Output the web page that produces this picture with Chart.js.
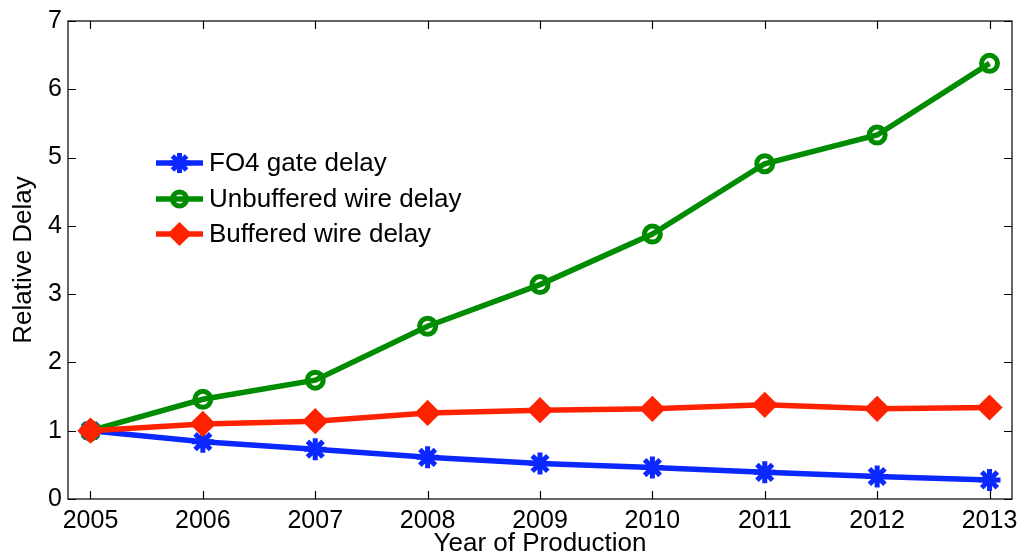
<!DOCTYPE html>
<html lang="en">
<head>
  <meta charset="UTF-8" />
  <title>Relative Delay</title>
  <script src="https://cdn.jsdelivr.net/npm/chart.js"></script>
  <style>
    body { margin: 0; background: #fff; }
  </style>
</head>
<body>
  <canvas id="delayChart" width="1028" height="558"></canvas>

  <script>
    // values
    const years = [2005, 2006, 2007, 2008, 2009, 2010, 2011, 2012, 2013];
    const fo4Delay = [1.0, 0.84, 0.73, 0.61, 0.52, 0.46, 0.39, 0.33, 0.28];
    const unbufferedDelay = [1.0, 1.46, 1.74, 2.53, 3.14, 3.88, 4.91, 5.33, 6.38];
    const bufferedDelay = [1.0, 1.10, 1.14, 1.26, 1.30, 1.32, 1.38, 1.32, 1.34];
    const yTicks = [0, 1, 2, 3, 4, 5, 6, 7];

    const FONT = '"Liberation Sans", Arial, Helvetica, sans-serif';

    const toPoints = vals => vals.map((v, i) => ({ x: years[i], y: v }));

    const series = [
      { label: 'FO4 gate delay', data: fo4Delay, color: '#0a28ff', style: 'star', radius: 11, bw: 5, fill: false, order: 3 },
      { label: 'Unbuffered wire delay', data: unbufferedDelay, color: '#008c00', style: 'circle', radius: 8, bw: 5, fill: false, order: 2 },
      { label: 'Buffered wire delay', data: bufferedDelay, color: '#ff2200', style: 'rectRot', radius: 11, bw: 3, fill: true, order: 1 }
    ];

    // MATLAB style box with inward ticks on all four sides
    const boxPlugin = {
      id: 'box',
      afterDraw(chart) {
        const { ctx, chartArea: a, scales } = chart;
        ctx.save();
        ctx.strokeStyle = '#000';
        ctx.lineWidth = 1.2;
        ctx.strokeRect(a.left, a.top, a.right - a.left, a.bottom - a.top);
        ctx.beginPath();
        years.forEach(v => {
          const x = Math.round(scales.x.getPixelForValue(v)) + 0.5;
          ctx.moveTo(x, a.bottom); ctx.lineTo(x, a.bottom - 8);
          ctx.moveTo(x, a.top); ctx.lineTo(x, a.top + 8);
        });
        yTicks.forEach(v => {
          const y = Math.round(scales.y.getPixelForValue(v)) + 0.5;
          ctx.moveTo(a.left, y); ctx.lineTo(a.left + 8, y);
          ctx.moveTo(a.right, y); ctx.lineTo(a.right - 8, y);
        });
        ctx.stroke();
        ctx.restore();
      }
    };

    // legend inside the axes, no frame
    const legendPlugin = {
      id: 'insideLegend',
      afterDraw(chart) {
        const ctx = chart.ctx;
        const x0 = 156, x1 = 203, tx = 209;
        const rows = [163, 199, 234];
        ctx.save();
        series.forEach((s, i) => {
          const y = rows[i];
          ctx.strokeStyle = s.color;
          ctx.lineWidth = 5.5;
          ctx.beginPath();
          ctx.moveTo(x0, y); ctx.lineTo(x1, y);
          ctx.stroke();
          ctx.fillStyle = s.fill ? s.color : 'rgba(0,0,0,0)';
          ctx.lineWidth = s.bw;
          Chart.helpers.drawPoint(ctx, { pointStyle: s.style, radius: s.radius - 1, borderWidth: s.bw, rotation: 0 }, (x0 + x1) / 2, y);
          ctx.fillStyle = '#000';
          ctx.font = '26px ' + FONT;
          ctx.textBaseline = 'middle';
          ctx.fillText(s.label, tx, y + 1);
        });
        ctx.restore();
      }
    };

    new Chart(document.getElementById('delayChart'), {
      type: 'line',
      data: {
        datasets: series.map(s => ({
          label: s.label,
          data: toPoints(s.data),
          borderColor: s.color,
          backgroundColor: s.fill ? s.color : 'rgba(0,0,0,0)',
          borderWidth: 5.5,
          pointStyle: s.style,
          pointRadius: s.radius,
          pointBorderWidth: s.bw,
          pointBackgroundColor: s.fill ? s.color : 'rgba(0,0,0,0)',
          pointBorderColor: s.color,
          tension: 0,
          order: s.order
        }))
      },
      options: {
        responsive: false,
        devicePixelRatio: 1,
        animation: false,
        layout: { padding: { top: 18, right: 8, left: 0, bottom: 0 } },
        plugins: {
          legend: { display: false },
          tooltip: { enabled: false }
        },
        scales: {
          x: {
            type: 'linear',
            min: 2004.8,
            max: 2013.2,
            grid: { display: false, drawTicks: false },
            border: { display: false },
            afterBuildTicks: scale => { scale.ticks = years.map(v => ({ value: v })); },
            afterFit: scale => { scale.height = 59; },
            ticks: {
              autoSkip: false,
              maxRotation: 0,
              padding: 7,
              color: '#000',
              font: { family: FONT, size: 25 },
              callback: v => String(v)
            },
            title: {
              display: true,
              text: 'Year of Production',
              color: '#000',
              font: { family: FONT, size: 26, lineHeight: 1 },
              padding: { top: 0, bottom: 1 }
            }
          },
          y: {
            min: 0,
            max: 7,
            grid: { display: false, drawTicks: false },
            border: { display: false },
            afterBuildTicks: scale => { scale.ticks = yTicks.map(v => ({ value: v })); },
            afterFit: scale => { scale.width = 68; },
            ticks: {
              padding: 6,
              color: '#000',
              font: { family: FONT, size: 25 }
            },
            title: {
              display: true,
              text: 'Relative Delay',
              color: '#000',
              font: { family: FONT, size: 26, lineHeight: 1 },
              padding: { top: 11, bottom: 0 }
            }
          }
        }
      },
      plugins: [boxPlugin, legendPlugin]
    });
  </script>
</body>
</html>
